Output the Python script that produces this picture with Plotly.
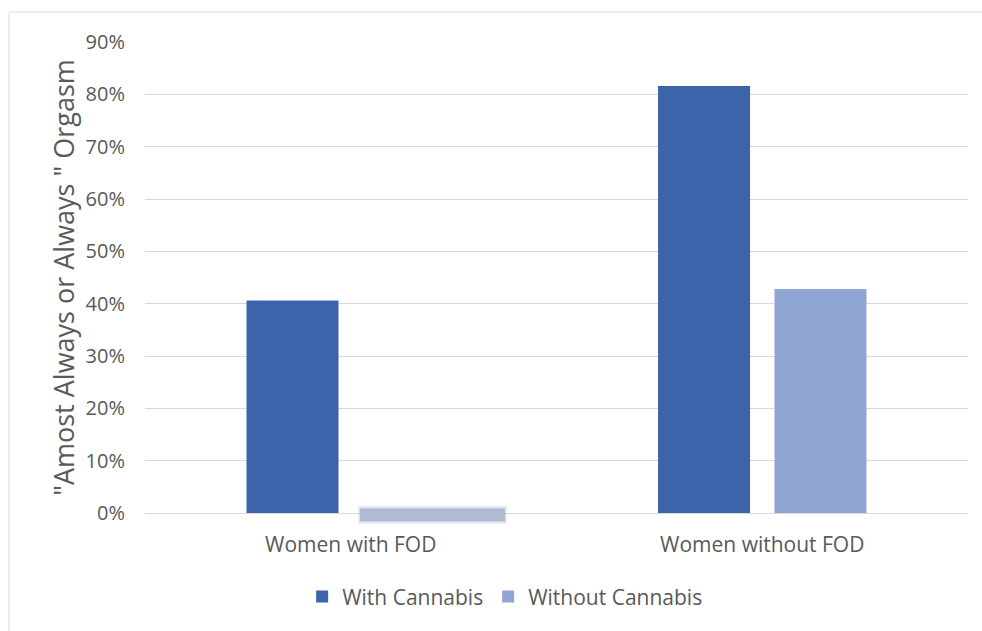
import plotly.graph_objects as go

# Share of women reporting "almost always or always" orgasm
categories = ["Women with FOD", "Women without FOD"]
with_cannabis = [0.406, 0.816]
without_cannabis = [0.0, 0.428]
series_names = ["With Cannabis", "Without Cannabis"]
y_ticks = [0, 0.1, 0.2, 0.3, 0.4, 0.5, 0.6, 0.7, 0.8, 0.9]
y_max = 0.9

COLOR_WITH = "#3D64AB"
COLOR_WITHOUT = "#8FA5D3"
TEXT = "#595959"
GRID = "#D9D9D9"
FONT = "Open Sans"

fig = go.Figure()
fig.add_trace(go.Bar(x=categories, y=with_cannabis, name=series_names[0],
                     marker=dict(color=COLOR_WITH, line=dict(width=0))))
fig.add_trace(go.Bar(x=categories, y=without_cannabis, name=series_names[1],
                     marker=dict(color=COLOR_WITHOUT, line=dict(width=0))))

bar_gap, group_gap = 0.434, 0.21

# soft smudge over the zero-height bar of the first group (paper coords so it is not clipped)
def to_paper_x(v):
    return (v + 0.5) / len(categories)

sx0 = to_paper_x(0.022)
sx1 = to_paper_x(0.375)
zero = without_cannabis[0] / y_max
for pad, op in [(0.005, 0.3), (0.0, 0.9)]:
    fig.add_shape(type="rect", xref="paper", yref="paper",
                  x0=sx0 - pad * 0.4, x1=sx1 + pad * 0.4,
                  y0=zero - 0.018 - pad, y1=zero + 0.01 + pad,
                  fillcolor="#A9B6CE", opacity=op, line=dict(width=0), layer="above")

# chart frame
fig.add_shape(type="rect", xref="paper", yref="paper",
              x0=(9 - 145) / 823, x1=1.2, y0=-0.5, y1=(513 - 12) / 471,
              line=dict(color=GRID, width=1), fillcolor="rgba(0,0,0,0)", layer="below")

fig.update_layout(
    width=982, height=631,
    margin=dict(l=145, r=14, t=42, b=118),
    paper_bgcolor="white", plot_bgcolor="white",
    barmode="group", bargap=bar_gap, bargroupgap=group_gap,
    font=dict(family=FONT, color=TEXT, size=20),
    showlegend=True,
    legend=dict(orientation="h", x=0.437, xanchor="center", y=-0.178, yanchor="middle",
                font=dict(size=21, color=TEXT), traceorder="normal"),
)
fig.update_xaxes(showgrid=False, showline=False, zeroline=False, ticks="",
                 tickfont=dict(size=21, color=TEXT), ticklabelstandoff=17)
fig.update_yaxes(range=[0, y_max], tickvals=y_ticks, tickformat=".0%",
                 showgrid=True, gridcolor=GRID, gridwidth=1,
                 zeroline=True, zerolinecolor=GRID, zerolinewidth=1,
                 showline=False, ticks="", ticklabelstandoff=19,
                 tickfont=dict(size=20, color=TEXT),
                 title=dict(text='"Amost Always or Always " Orgasm',
                            font=dict(size=27, color=TEXT), standoff=3))

fig.write_html("out.html")
